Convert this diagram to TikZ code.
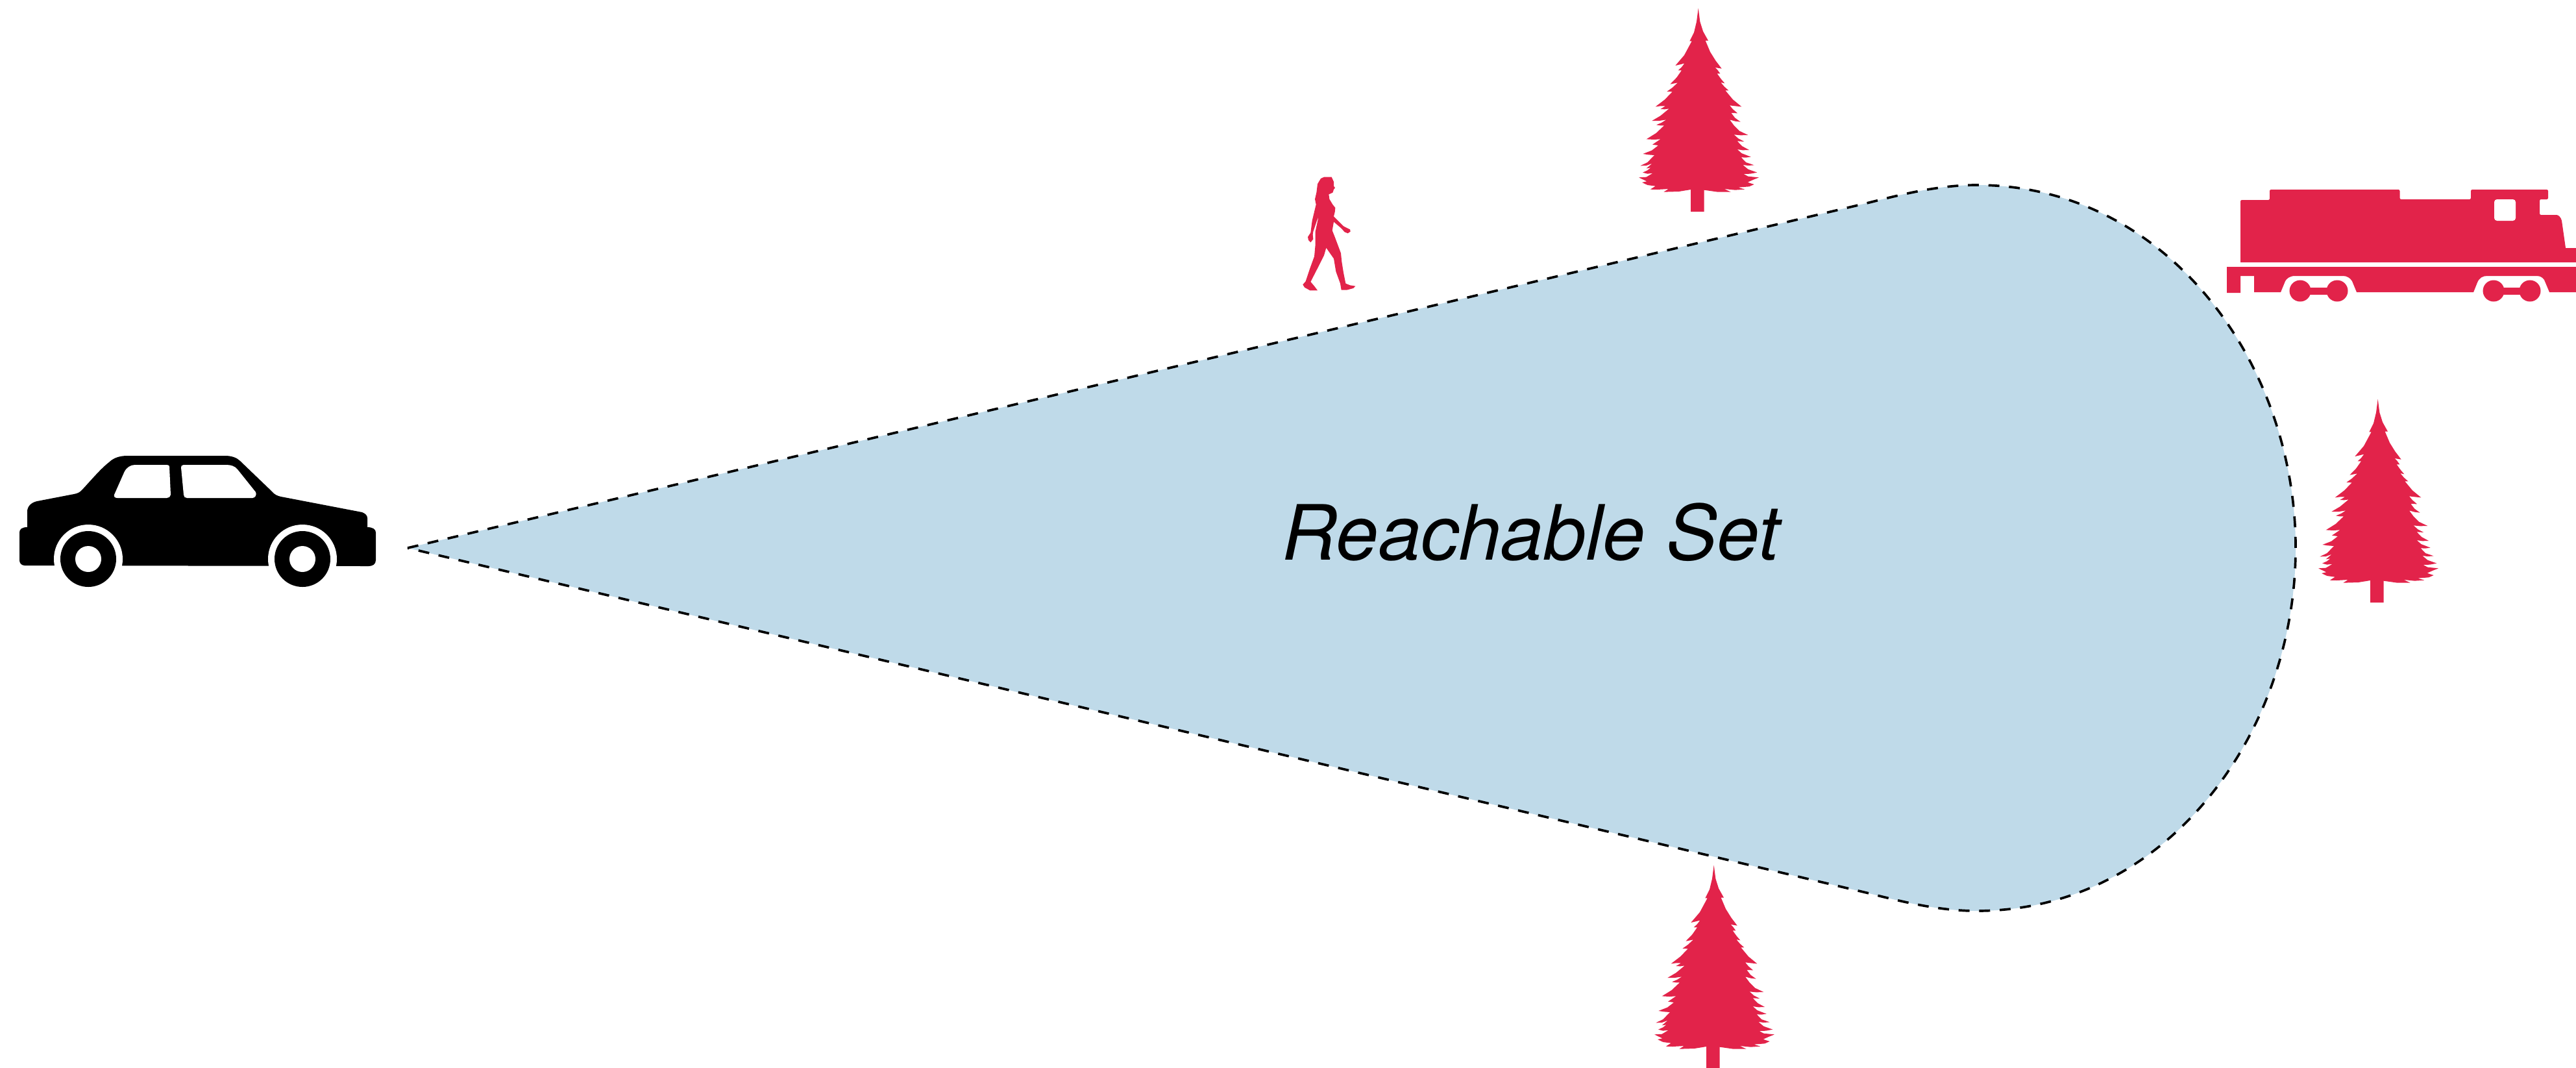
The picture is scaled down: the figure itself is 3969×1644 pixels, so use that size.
\documentclass[tikz,border=0pt]{standalone}
\usepackage{fontspec}
\setmainfont{TeX Gyre Heros}
\definecolor{setblue}{HTML}{BFDAE9}
\definecolor{hazard}{HTML}{E2234A}
\tikzset{
  reachset/.style={fill=setblue,draw=black,line width=1.05pt,dash pattern=on 4.8pt off 4.2pt},
  hazardfill/.style={fill=hazard,draw=none},
  treeshape/.pic={
    \fill[hazardfill,scale=1/3]
    (410,38)--(418,100)--(432,145)--(456,188)--(443,188)--(465,240)--(490,280)--(518,317)--(488,312)--(498,322)--(511,340)--(497,340)--(515,365)--(532,385)--(514,381)--(530,400)--(550,418)--(535,418)--(570,460)--(610,493)--(580,490)--(555,487)--(570,505)--(591,523)--(562,522)--(580,545)--(605,563)--(580,560)--(555,553)--(575,580)--(600,605)--(640,624)--(605,625)--(575,622)--(595,640)--(622,654)--(590,652)--(612,675)--(645,693)--(615,694)--(590,690)--(610,708)--(653,725)--(630,728)--(608,727)--(630,750)--(668,763)--(640,765)--(616,762)--(640,782)--(682,797)--(650,803)--(620,804)--(640,815)--(690,820)--(665,830)--(638,842)--(655,848)--(668,852)--(645,862)--(595,866)--(625,875)--(580,878)--(530,873)--(560,887)--(500,887)--(437,878)--
    (437,978)--(375,978)--(375,876)--
    (320,885)--(250,887)--(272,873)--(220,876)--(188,875)--(212,860)--(175,855)--(150,843)--(172,838)--(135,820)--(170,818)--(200,800)--(175,803)--(153,797)--(175,787)--(190,775)--(170,778)--(197,755)--(170,765)--(142,766)--(175,750)--(207,717)--(180,715)--(154,711)--(195,695)--(225,672)--(198,668)--(235,643)--(205,645)--(170,643)--(215,615)--(252,580)--(235,580)--(216,577)--(240,567)--(262,553)--(230,558)--(196,558)--(235,535)--(275,502)--(255,505)--(235,504)--(258,490)--(235,490)--(212,493)--(255,460)--(290,424)--(265,423)--(290,405)--(315,382)--(300,385)--(280,389)--(310,358)--(333,325)--(317,325)--(333,310)--(346,293)--(325,298)--(304,303)--(345,255)--(380,190)--(370,190)--(390,150)--(402,100)--cycle;
  }
}
\begin{document}
\begin{tikzpicture}[x=0.01cm,y=-0.01cm]
\useasboundingbox (0,0) rectangle (3969,1644);

% reachable set
\path[reachset] (628,844) -- (2880,312)
  .. controls (2935,298) and (2990,285) .. (3045,285)
  .. controls (3340,285) and (3537,560) .. (3537,844)
  .. controls (3537,1128) and (3340,1403) .. (3045,1403)
  .. controls (2990,1403) and (2935,1390) .. (2880,1376)
  -- cycle;
\node[anchor=base west,inner sep=0pt,font=\fontsize{33.4pt}{36pt}\selectfont\itshape] (label) at (1975,862) {Reachable Set};

% car
\fill[black,rounded corners=0pt] (42,812) -- (42,788)
  .. controls (42,780) and (48,774) .. (57,772) -- (114,761)
  .. controls (120,760) and (123,758) .. (126,755)
  .. controls (140,740) and (155,722) .. (168,712)
  .. controls (175,705) and (185,702) .. (196,702) -- (347,702)
  .. controls (357,702) and (365,705) .. (370,710) -- (419,757)
  .. controls (423,762) and (428,764) .. (433,765) -- (558,789)
  .. controls (563,791) and (566,794) .. (566,798) -- (566,812)
  .. controls (574,812) and (579,815) .. (579,820) -- (579,863)
  .. controls (579,869) and (574,872) .. (568,872) -- (38,871)
  .. controls (33,871) and (30,867) .. (30,863) -- (30,820)
  .. controls (30,815) and (34,812) .. (42,812) -- cycle;
\fill[white] (176,762) -- (191.5,727) .. controls (195,720) and (201,716) .. (208,716) -- (257,716)
  .. controls (260,716) and (261,717) .. (261,719) -- (263,762)
  .. controls (263,765) and (260,767) .. (257,767) -- (181,767)
  .. controls (177,767) and (175,765) .. (176,762) -- cycle;
\fill[white] (279,720) .. controls (279,718) and (280,716) .. (283,716) -- (349,716)
  .. controls (356,716) and (362,718) .. (366,723) -- (394,758)
  .. controls (396,762) and (393,767) .. (389,767) -- (288,767)
  .. controls (285,767) and (283,765) .. (283,762) -- cycle;
\foreach \wx in {136,466}{
  \fill[white] (\wx,861) circle[radius=53];
  \fill[black] (\wx,861) circle[radius=43];
  \fill[white] (\wx,861) circle[radius=20];
}

% pedestrian
\fill[hazardfill,shift={(1960,250)},scale=1/3]
 (240,68)--(275,68)--(285,90)--(285,110)--(291,118)--(285,125)--(280,140)--(262,148)--(265,170)--(280,195)--(292,210)--(290,230)--(285,250)--(300,265)--(330,295)--(345,303)--(360,310)--(362,320)--(350,328)--(335,322)--(320,305)--(285,275)--(278,315)--(290,345)--(305,385)--(318,420)--(322,460)--(330,510)--(340,560)--(360,568)--(385,572)--(375,582)--(345,590)--(320,590)--(315,560)--(295,505)--(285,445)--(250,395)--(240,430)--(215,480)--(178,552)--(195,572)--(210,592)--(175,592)--(150,578)--(142,565)--(155,550)--(175,490)--(195,435)--(200,380)--(200,320)--(215,250)--(205,275)--(190,320)--(188,335)--(190,355)--(178,370)--(168,360)--(165,345)--(178,325)--(185,270)--(203,195)--(198,170)--(205,140)--(210,100)--(225,75)--cycle;

% trees
\pic at (2480,0) {treeshape};
\pic at (2504,1320) {treeshape};
\pic at (3527,602) {treeshape};

% train
\fill[hazardfill,rounded corners=0.6pt] (3452,404) -- (3452,308) -- (3497,308) -- (3497,292) -- (3697.5,292) -- (3697.5,307) -- (3807,307) -- (3807,292) -- (3926,292) -- (3926,307) -- (3913,307) -- (3913,331) -- (3937,331)
  [rounded corners=0pt] .. controls (3942,331) and (3946,335) .. (3947,340) -- (3953,382) -- (3969,382) -- (3969,404) -- cycle;
\fill[white,rounded corners=1.2pt] (3843,307) rectangle (3876,340);
\fill[hazardfill] (3431,411) -- (3969,411) -- (3969,450) -- (3928,450) -- (3920,431)
  .. controls (3917,427) and (3914,425) .. (3908,425) -- (3832,425)
  .. controls (3825,425) and (3820,428) .. (3817,435) -- (3811,450) -- (3631,450) -- (3624,433)
  .. controls (3621,428) and (3616,425) .. (3610,425) -- (3536,425)
  .. controls (3528,425) and (3523,429) .. (3521,433) -- (3514,450) -- (3473,450) -- (3473,425) -- (3452,425) -- (3452,451) -- (3431,451) -- cycle;
\foreach \bx/\by in {3544/3601,3842/3898}{
  \fill[hazardfill] (\bx,448) circle[radius=16.5];
  \fill[hazardfill] (\by,448) circle[radius=16.5];
  \fill[hazardfill] (\bx,442.5) rectangle (\by,453.5);
}
\end{tikzpicture}
\end{document}
